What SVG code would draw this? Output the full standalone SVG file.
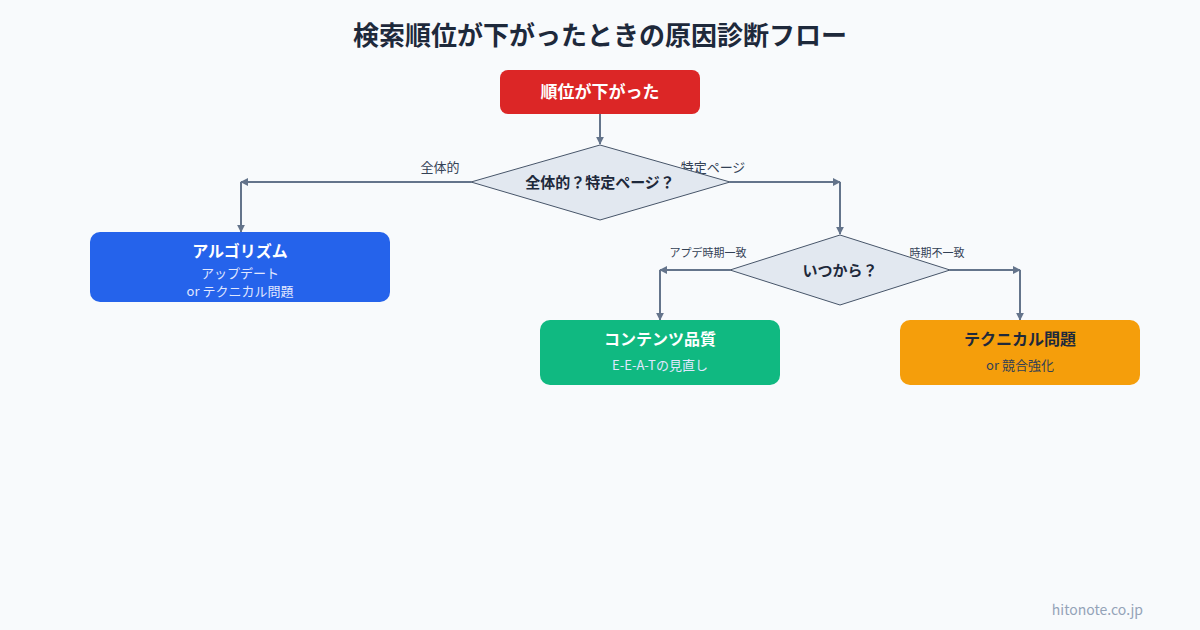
<svg xmlns="http://www.w3.org/2000/svg" width="1200" height="630" viewBox="0 0 1200 630">
  <defs>
    <marker id="arr" viewBox="0 0 10 10" refX="9" refY="5" markerWidth="8" markerHeight="8" markerUnits="userSpaceOnUse" orient="auto">
      <path d="M0,0 L10,5 L0,10 z" fill="#64748b"/>
    </marker>
    <style>
      text { font-family: "Noto Sans CJK JP", "Noto Sans", sans-serif; }
      .title { font-size: 26px; font-weight: 700; fill: #1e293b; }
      .conn { fill: none; stroke: #64748b; stroke-width: 2; }
      .dia { fill: #e2e8f0; stroke: #475569; stroke-width: 1; }
      .dtext { font-size: 15px; font-weight: 700; fill: #1e293b; }
      .lbl { font-size: 13px; fill: #334155; }
      .lbls { font-size: 11px; fill: #334155; }
      .nt { font-size: 16px; font-weight: 700; fill: #ffffff; }
      .ns { font-size: 13px; fill: #e0e7ff; }
      .ntd { font-size: 16px; font-weight: 700; fill: #1e293b; }
      .nsd { font-size: 13px; fill: #334155; }
    </style>
  </defs>
  <rect width="1200" height="630" fill="#f8fafc"/>
  <text class="title" x="600" y="45" text-anchor="middle">検索順位が下がったときの原因診断フロー</text>

  <g id="connectors">
    <path class="conn" d="M600,114 L600,144" marker-end="url(#arr)"/>
    <path class="conn" d="M471,182 L241,182" marker-end="url(#arr)"/>
    <path class="conn" d="M241,182 L241,232" marker-end="url(#arr)"/>
    <path class="conn" d="M730,182 L840,182" marker-end="url(#arr)"/>
    <path class="conn" d="M840,182 L840,234" marker-end="url(#arr)"/>
    <path class="conn" d="M730,270 L660,270" marker-end="url(#arr)"/>
    <path class="conn" d="M660,270 L660,320" marker-end="url(#arr)"/>
    <path class="conn" d="M950,270 L1020,270" marker-end="url(#arr)"/>
    <path class="conn" d="M1020,270 L1020,320" marker-end="url(#arr)"/>
    <text class="lbl" x="440" y="172" text-anchor="middle">全体的</text>
    <text class="lbl" x="713" y="172" text-anchor="middle">特定ページ</text>
    <text class="lbls" x="708" y="257" text-anchor="middle">アプデ時期一致</text>
    <text class="lbls" x="937" y="257" text-anchor="middle">時期不一致</text>
  </g>

  <g id="start">
    <rect x="500" y="70" width="200" height="44" rx="8" fill="#dc2626"/>
    <text x="600" y="98" text-anchor="middle" font-size="17" font-weight="700" fill="#ffffff">順位が下がった</text>
  </g>

  <g id="decision1">
    <polygon class="dia" points="600,145 730,182 600,220 471,182"/>
    <text class="dtext" x="600" y="188" text-anchor="middle">全体的？特定ページ？</text>
  </g>

  <g id="decision2">
    <polygon class="dia" points="840,235 950,270 840,305 730,270"/>
    <text class="dtext" x="840" y="276" text-anchor="middle">いつから？</text>
  </g>

  <g id="algorithm">
    <rect x="90" y="232" width="300" height="70" rx="10" fill="#2563eb"/>
    <text class="nt" x="240" y="257" text-anchor="middle">アルゴリズム</text>
    <text class="ns" x="240" y="278" text-anchor="middle">アップデート</text>
    <text class="ns" x="240" y="296" text-anchor="middle" font-size="12">or テクニカル問題</text>
  </g>

  <g id="content">
    <rect x="540" y="320" width="240" height="65" rx="10" fill="#10b981"/>
    <text class="nt" x="660" y="345" text-anchor="middle" font-size="15">コンテンツ品質</text>
    <text class="ns" x="660" y="370" text-anchor="middle" fill="#ecfdf5">E-E-A-Tの見直し</text>
  </g>

  <g id="technical">
    <rect x="900" y="320" width="240" height="65" rx="10" fill="#f59e0b"/>
    <text class="ntd" x="1020" y="345" text-anchor="middle" font-size="15">テクニカル問題</text>
    <text class="nsd" x="1020" y="370" text-anchor="middle">or 競合強化</text>
  </g>

  <text x="1143" y="615" text-anchor="end" font-size="14" fill="#94a3b8" font-family="Inter, 'Noto Sans', sans-serif">hitonote.co.jp</text>
</svg>
